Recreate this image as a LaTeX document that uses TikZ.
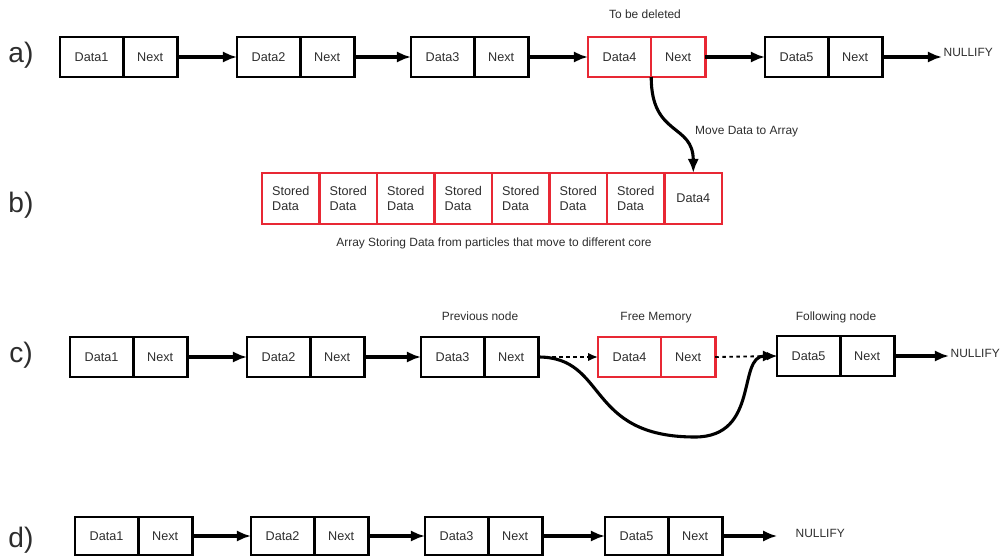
\documentclass[tikz,border=0pt]{standalone}
\usepackage{fontspec}
\setmainfont{Liberation Sans}
\usetikzlibrary{positioning, arrows, arrows.meta}
\definecolor{delred}{RGB}{232,40,52}
\definecolor{txt}{RGB}{45,45,45}
\tikzstyle{line} = [draw, -{Latex[length=10pt,width=8pt]}, line width=2.2pt]
\tikzstyle{dotline} = [draw, -{Latex[length=7pt,width=6pt]}, line width=1.3pt, dash pattern=on 2.5pt off 2.5pt]
\tikzstyle{cell} = [draw, line width=2pt, minimum height=1cm, outer sep=0pt, inner sep=0pt, text=txt, font=\fontsize{9}{10}\selectfont]
\tikzstyle{datacell} = [cell, minimum width=1.58cm]
\tikzstyle{nextcell} = [cell, minimum width=1.35cm]
\tikzstyle{redcell} = [draw=delred, line width=1.8pt]
\tikzstyle{arraycell} = [cell, redcell, minimum width=1.4375cm, minimum height=1.275cm, align=left]
\tikzstyle{note} = [text=txt, inner sep=1pt, font=\fontsize{8.5}{10}\selectfont]
\tikzstyle{rowlabel} = [text=txt, font=\fontsize{20}{22}\selectfont]
% one list element: data cell + next cell
\newcommand{\ListNode}[4][]{%
	\node[datacell,anchor=west,#1] (#2) at #3 {#4};
	\node[nextcell,right=0pt of #2,#1] (#2n) {Next};
}

\begin{document}
\begin{tikzpicture}[x=0.025cm,y=-0.025cm]
\useasboundingbox (0,0) rectangle (1007,559);
% a)
\node[rowlabel] (la) at (21,55) {a)};
\ListNode{a1}{(60,57)}{Data1}
\ListNode{a2}{(237,57)}{Data2}
\ListNode{a3}{(411,57)}{Data3}
\ListNode[redcell]{a4}{(588,57)}{Data4}
\ListNode{a5}{(765,57)}{Data5}
\node[note,anchor=west] (anull) at (942,52) {NULLIFY};
\node[note] (adel) at (645,14) {To be deleted};
\draw[line] (a1n) -- (a2);
\draw[line] (a2n) -- (a3);
\draw[line] (a3n) -- (a4);
\draw[line] (a4n) -- (a5);
\draw[line] (a5n) -- (a5n.east -| anull.west);
% b)
\node[rowlabel] (lb) at (21,205) {b)};
\foreach \i in {1,...,7}
	\node[arraycell,anchor=west] (b\i) at ({262+57.5*(\i-1)},198.5) {Stored\\Data};
\node[arraycell,right=0pt of b7,align=center] (b8) {Data4};
\node[note] (bcap) at (494,243) {Array Storing Data from particles that move to different core};
\draw[line] (a4n.south west) .. controls +(0,60) and +(0,-50) .. (b8.north) node[note,pos=0.55,right=12pt] {Move Data to Array};
% c)
\node[rowlabel] (lc) at (21,355) {c)};
\ListNode{c1}{(70,357)}{Data1}
\ListNode{c2}{(247,357)}{Data2}
\ListNode{c3}{(421,357)}{Data3}
\ListNode[redcell]{c4}{(598,357)}{Data4}
\ListNode{c5}{(777,356)}{Data5}
\node[note,anchor=west] (cnull) at (949,353) {NULLIFY};
\node[note] (cprev) at (480,316) {Previous node};
\node[note] (cfree) at (656,318) {Free Memory};
\node[note] (cfoll) at (836,317) {Following node};
\draw[line] (c1n) -- (c2);
\draw[line] (c2n) -- (c3);
\draw[dotline] (c3n) -- (c4);
\draw[dotline] (c4n.east) -- (c5.west);
\draw[line] (c5n) -- (c5n.east -| cnull.west);
\coordinate (cdip) at (695,437);
\draw[line] (c3n.east) .. controls +(70,0) and +(-110,0) .. (cdip) .. controls +(65,0) and +(-40,0) .. (c5.west);
% d)
\node[rowlabel] (ld) at (21,540) {d)};
\ListNode[minimum height=0.95cm]{d1}{(75,536)}{Data1}
\ListNode[minimum height=0.95cm]{d2}{(251,536)}{Data2}
\ListNode[minimum height=0.95cm]{d3}{(425,536)}{Data3}
\ListNode[minimum height=0.95cm]{d5}{(605,536)}{Data5}
\node[note,anchor=west] (dnull) at (794,533) {NULLIFY};
\draw[line] (d1n) -- (d2);
\draw[line] (d2n) -- (d3);
\draw[line] (d3n) -- (d5);
\draw[line] (d5n.east) -- ++(55,0);
\end{tikzpicture}
\end{document}
